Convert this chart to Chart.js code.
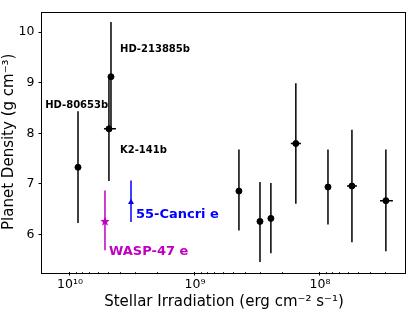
<!DOCTYPE html>
<html>
<head>
<meta charset="utf-8">
<script src="https://cdn.jsdelivr.net/npm/chart.js@4.4.1/dist/chart.umd.min.js"></script>
<style>
    html, body { margin: 0; padding: 0; background: #fff; }
    #wrap { width: 415px; height: 312px; }
</style>
</head>
<body>
<div id="wrap"><canvas id="chart" width="415" height="312"></canvas></div>
<script>
// --- data ---
// black planets
const planetIrr = [8.63e9, 4.70e9, 4.88e9, 4.45e8, 3.02e8, 2.47e8, 1.56e8, 8.63e7, 5.55e7, 2.97e7];
const planetDen = [7.33, 9.12, 8.09, 6.86, 6.26, 6.32, 7.80, 6.94, 6.96, 6.67];
const denLow    = [6.23, 8.04, 7.06, 6.08, 5.46, 5.63, 6.61, 6.20, 5.85, 5.67];
const denHigh   = [8.44, 10.20, 9.12, 7.68, 7.04, 7.02, 8.99, 7.68, 8.07, 7.68];
const irrLow    = [null, null, 4.29e9, null, null, null, 1.42e8, null, 5.06e7, 2.61e7];
const irrHigh   = [null, null, 5.35e9, null, null, null, 1.71e8, null, 6.08e7, 3.31e7];

// highlighted planets
const cancriIrr = [3.25e9], cancriDen = [6.64], cancriLow = [6.25], cancriHigh = [7.07];
const waspIrr = [5.25e9], waspDen = [6.27], waspLow = [5.69], waspHigh = [6.87];

// text labels (data coordinates of left / middle)
const labelText = ['HD-80653b', 'HD-213885b', 'K2-141b', '55-Cancri e', 'WASP-47 e'];
const labelIrr  = [1.58e10, 3.98e9, 3.98e9, 2.97e9, 4.87e9];
const labelDen  = [8.56, 9.67, 7.66, 6.39, 5.67];
const labelColor = ['#000', '#000', '#000', '#0000ff', '#bf00bf'];
const labelSize  = [10, 10, 10, 13, 13];

const xMajor = [1e8, 1e9, 1e10];
const xTickText = { 1e8: '10⁸', 1e9: '10⁹', 1e10: '10¹⁰' };
const yMajor = [6, 7, 8, 9, 10];

const FONT = "'DejaVu Sans', sans-serif";

// filled 5 point star for WASP-47 e
function starImage(size, color) {
    const c = document.createElement('canvas');
    c.width = size; c.height = size;
    const g = c.getContext('2d');
    const r = size / 2, ri = r * 0.42;
    g.beginPath();
    for (let i = 0; i < 10; i++) {
        const rad = i % 2 ? ri : r;
        const a = -Math.PI / 2 + i * Math.PI / 5;
        g.lineTo(r + rad * Math.cos(a), r + rad * Math.sin(a) + 0.6);
    }
    g.closePath();
    g.fillStyle = color;
    g.fill();
    return c;
}

function toPoints(xs, ys) { return xs.map((x, i) => ({ x: x, y: ys[i] })); }

const errorBars = {
    id: 'errorBars',
    beforeDatasetsDraw(chart) {
        const ctx = chart.ctx, xs = chart.scales.x, ys = chart.scales.y;
        const sets = [
            [planetIrr, planetDen, denLow, denHigh, irrLow, irrHigh, '#000'],
            [cancriIrr, cancriDen, cancriLow, cancriHigh, null, null, '#0000ff'],
            [waspIrr, waspDen, waspLow, waspHigh, null, null, '#bf00bf']
        ];
        ctx.save();
        ctx.lineWidth = 1.5;
        sets.forEach(([ix, dy, lo, hi, xl, xh, col]) => {
            ctx.strokeStyle = col;
            ix.forEach((v, i) => {
                const px = xs.getPixelForValue(v), py = ys.getPixelForValue(dy[i]);
                ctx.beginPath();
                ctx.moveTo(px, ys.getPixelForValue(lo[i]));
                ctx.lineTo(px, ys.getPixelForValue(hi[i]));
                if (xl && xl[i] != null) {
                    ctx.moveTo(xs.getPixelForValue(xl[i]), py);
                    ctx.lineTo(xs.getPixelForValue(xh[i]), py);
                }
                ctx.stroke();
            });
        });
        ctx.restore();
    }
};

const frameAndText = {
    id: 'frameAndText',
    afterDraw(chart) {
        const ctx = chart.ctx, a = chart.chartArea, xs = chart.scales.x, ys = chart.scales.y;
        ctx.save();
        ctx.strokeStyle = '#000';
        ctx.lineWidth = 1;
        ctx.strokeRect(Math.round(a.left) - 0.5, Math.round(a.top) + 0.5,
            Math.round(a.right - a.left), Math.round(a.bottom - a.top));

        // minor log ticks
        ctx.lineWidth = 0.8;
        ctx.beginPath();
        for (let d = 1e7; d < 1e11; d *= 10) {
            for (let m = 2; m < 10; m++) {
                const v = m * d;
                if (v < xs.min || v > xs.max) continue;
                const px = Math.round(xs.getPixelForValue(v)) + 0.5;
                ctx.moveTo(px, a.bottom);
                ctx.lineTo(px, a.bottom + 2.2);
            }
        }
        ctx.stroke();

        ctx.textBaseline = 'middle';
        ctx.textAlign = 'left';
        labelText.forEach((t, i) => {
            ctx.font = 'bold ' + labelSize[i] + 'px ' + FONT;
            ctx.fillStyle = labelColor[i];
            ctx.fillText(t, xs.getPixelForValue(labelIrr[i]), ys.getPixelForValue(labelDen[i]));
        });
        ctx.restore();
    }
};

new Chart(document.getElementById('chart'), {
    type: 'scatter',
    data: {
        datasets: [
            { data: toPoints(planetIrr, planetDen), backgroundColor: '#000', borderColor: '#000', pointRadius: 3, pointHoverRadius: 3 },
            { data: toPoints(cancriIrr, cancriDen), backgroundColor: '#0000ff', borderColor: '#0000ff', pointStyle: 'triangle', pointRadius: 3.5, borderWidth: 0 },
            { data: toPoints(waspIrr, waspDen), pointStyle: starImage(10, '#bf00bf') }
        ]
    },
    options: {
        responsive: false,
        animation: false,
        events: [],
        layout: { padding: { top: 7, right: 9, left: 0, bottom: 0 } },
        plugins: { legend: { display: false }, tooltip: { enabled: false } },
        scales: {
            x: {
                type: 'logarithmic',
                reverse: true,
                min: 2.05e7,
                max: 1.675e10,
                afterBuildTicks: (s) => { s.ticks = xMajor.map(v => ({ value: v, major: true })); },
                afterFit: (s) => { s.height = 40; },
                grid: { drawOnChartArea: false, tickLength: 3.5, tickColor: '#000', tickWidth: 1 },
                border: { display: false },
                ticks: {
                    autoSkip: false, maxRotation: 0, padding: 2, color: '#000',
                    font: { family: FONT, size: 12.5 },
                    callback: (v) => xTickText[v] || ''
                },
                title: {
                    display: true, text: 'Stellar Irradiation (erg cm⁻² s⁻¹)', color: '#000',
                    font: { family: FONT, size: 15 }, padding: { top: 0, bottom: 1 }
                }
            },
            y: {
                min: 5.26,
                max: 10.41,
                afterBuildTicks: (s) => { s.ticks = yMajor.map(v => ({ value: v })); },
                afterFit: (s) => { s.width = 42; },
                grid: { drawOnChartArea: false, tickLength: 3.5, tickColor: '#000', tickWidth: 1 },
                border: { display: false },
                ticks: { padding: 4, color: '#000', font: { family: FONT, size: 12.5 } },
                title: {
                    display: true, text: 'Planet Density (g cm⁻³)', color: '#000',
                    font: { family: FONT, size: 15 }, padding: { top: 0, bottom: 1 }
                }
            }
        }
    },
    plugins: [errorBars, frameAndText]
});
</script>
</body>
</html>
